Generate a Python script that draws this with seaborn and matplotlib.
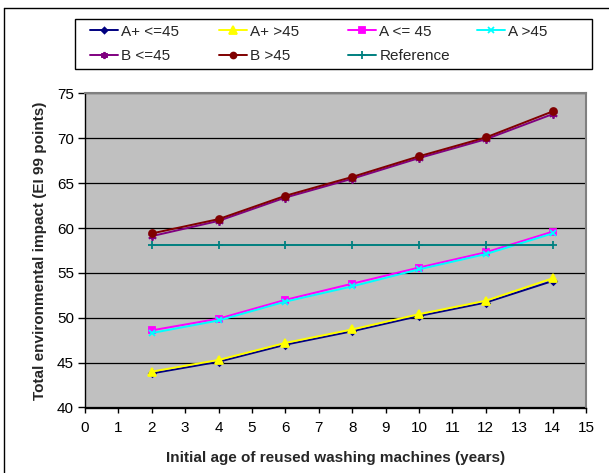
import matplotlib
matplotlib.use("Agg")
import matplotlib.pyplot as plt
from matplotlib.lines import Line2D
from matplotlib.patches import Rectangle
import pandas as pd
import seaborn as sns

# Initial age of the reused machines (years)
ages = [2, 4, 6, 8, 10, 12, 14]

a_plus_le45 = [43.8, 45.1, 47.0, 48.5, 50.2, 51.7, 54.1]
a_plus_gt45 = [44.0, 45.3, 47.2, 48.7, 50.4, 51.9, 54.4]
a_le45 = [48.6, 49.9, 52.0, 53.8, 55.6, 57.3, 59.6]
a_gt45 = [48.3, 49.7, 51.8, 53.5, 55.4, 57.1, 59.4]
b_le45 = [59.1, 60.8, 63.4, 65.5, 67.8, 69.9, 72.7]
b_gt45 = [59.4, 61.0, 63.6, 65.7, 68.0, 70.1, 73.0]
reference = [58.1, 58.1, 58.1, 58.1, 58.1, 58.1, 58.1]

series_names = ["A+ <=45", "A+ >45", "A <= 45", "A >45", "B <=45", "B >45", "Reference"]
series_values = [a_plus_le45, a_plus_gt45, a_le45, a_gt45, b_le45, b_gt45, reference]

colors = ["#000080", "#FFFF00", "#FF00FF", "#00FFFF", "#800080", "#800000", "#008080"]
markers = ["D", "^", "s", "x", (6, 2, 0), "o", "+"]
msizes = [3.5, 6, 4.5, 5, 6, 5, 6]

x_ticks = list(range(0, 16))
y_ticks = [40, 45, 50, 55, 60, 65, 70, 75]

df = pd.DataFrame({
    "age": ages * len(series_names),
    "impact": [v for vals in series_values for v in vals],
    "series": [n for n in series_names for _ in ages],
})

sns.set_theme(style="white")
plt.rcParams["font.family"] = ["Liberation Sans", "DejaVu Sans"]

W, H = 609, 473
fig = plt.figure(figsize=(W / 100, H / 100), dpi=100)
ax = fig.add_axes([85 / W, 1 - 407.5 / H, (586 - 85) / W, (407.5 - 93.5) / H])
ax.set_facecolor("#C0C0C0")

for name, col, mk, ms in zip(series_names, colors, markers, msizes):
    sub = df[df["series"] == name]
    sns.lineplot(data=sub, x="age", y="impact", ax=ax, color=col, marker=mk,
                 markersize=ms, markeredgecolor=col, markerfacecolor=col,
                 markeredgewidth=1.3, linewidth=1.4, label=name, zorder=3)

handles, labels = ax.get_legend_handles_labels()
if ax.get_legend():
    ax.get_legend().remove()

ax.set_xlim(0, 15)
ax.set_ylim(40, 75)
ax.set_xticks(x_ticks)
ax.set_yticks(y_ticks)
ax.tick_params(axis="both", direction="out", width=1, color="black",
               labelsize=11, labelcolor="black", bottom=True, left=True)
ax.tick_params(axis="x", length=3.5, pad=6)
ax.tick_params(axis="y", length=5, pad=3)
ax.yaxis.grid(True, color="black", linewidth=0.9)
ax.set_axisbelow(True)

for side in ["left", "bottom"]:
    ax.spines[side].set_color("black")
    ax.spines[side].set_linewidth(1.0)
for side in ["top", "right"]:
    ax.spines[side].set_color("#808080")
    ax.spines[side].set_linewidth(1.5)

ax.set_xlabel("Initial age of reused washing machines (years)", fontsize=11,
              fontweight="bold", labelpad=12)
ax.set_ylabel("Total environmental impact (EI 99 points)", fontsize=11,
              fontweight="bold", labelpad=7)

# Legend: white box with a fixed grid of entries (4 per row)
fig.add_artist(Rectangle((75 / W, 1 - 69 / H), (592 - 75) / W, 50 / H,
                         transform=fig.transFigure, facecolor="white",
                         edgecolor="black", linewidth=1.0, zorder=2))
col_x = [90, 219, 348, 477]
row_y = [31.5, 56.5]
for i, (h, lab) in enumerate(zip(handles, labels)):
    r, c = divmod(i, 4)
    leg = fig.legend([h], [lab], loc="center left",
                     bbox_to_anchor=(col_x[c] / W, 1 - row_y[r] / H),
                     bbox_transform=fig.transFigure, frameon=False,
                     fontsize=11, handlelength=1.85, handletextpad=0.2,
                     borderpad=0, borderaxespad=0, markerscale=0.85)
    leg.set_zorder(3)

# Outer chart border (left and top edges)
fig.add_artist(Line2D([4 / W, 4 / W], [0, 1 - 8 / H], transform=fig.transFigure,
                      color="black", linewidth=1.0))
fig.add_artist(Line2D([4 / W, 1], [1 - 8 / H, 1 - 8 / H], transform=fig.transFigure,
                      color="black", linewidth=1.0))

fig.savefig("out.png", dpi=100, facecolor="white")
